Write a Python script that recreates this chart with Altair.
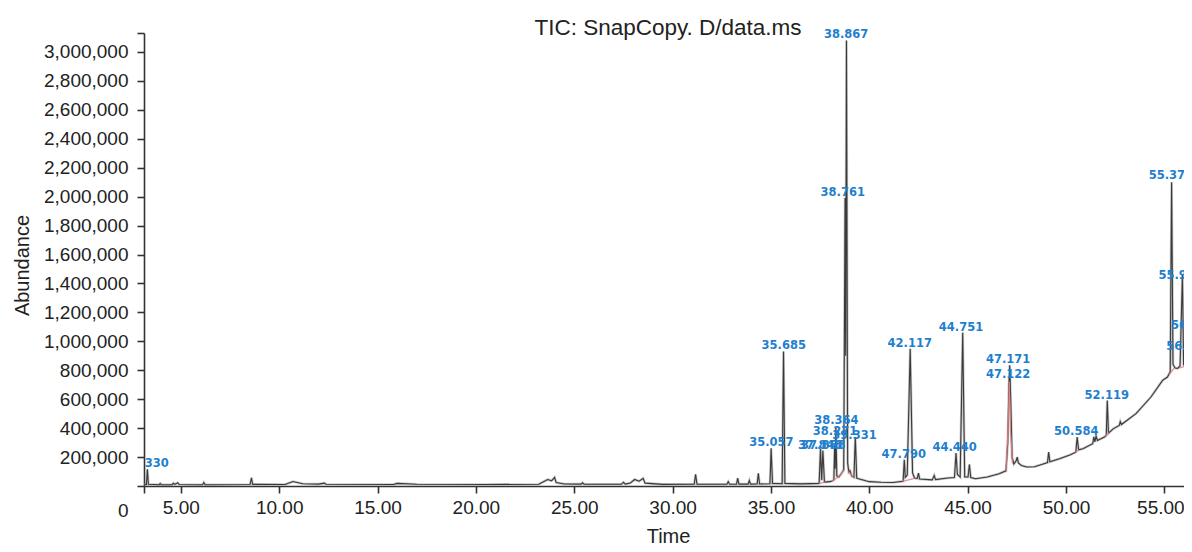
import altair as alt
import pandas as pd

# ---- chromatogram trace (time in minutes, abundance) ----
time_min = [
    3.13, 3.25, 3.30, 3.35, 3.90, 3.95, 4.00, 4.55, 4.62, 4.70, 4.84, 4.92,
    6.10, 6.17, 6.23, 8.52, 8.59, 8.65, 10.30, 10.70, 11.20, 12.00, 12.30, 12.38,
    15.80, 16.00, 17.00, 20.50, 23.20, 23.65, 23.85, 24.00, 24.08, 24.50,
    25.35, 25.42, 25.50, 27.40, 27.50, 27.60, 27.85, 28.07, 28.30, 28.50, 28.60,
    29.50, 31.10, 31.17, 31.24, 32.76, 32.83, 32.90, 33.25, 33.31, 33.37,
    33.84, 33.90, 33.96, 34.30, 34.36, 34.42, 34.95, 35.01, 35.08, 35.57, 35.64, 35.71,
    36.50, 37.45, 37.52, 37.58, 37.64, 37.72, 38.00, 38.10, 38.20, 38.24, 38.27,
    38.30, 38.35, 38.45, 38.60, 38.70, 38.77, 38.80, 38.84, 38.90, 38.96, 39.02,
    39.10, 39.22, 39.29, 39.36, 39.45, 40.00, 40.60, 41.20, 41.72, 41.78, 41.83,
    41.93, 42.08, 42.20, 42.30, 42.44, 42.50, 42.56, 43.20, 43.30, 43.37, 44.00,
    44.33, 44.41, 44.48, 44.62, 44.75, 44.85, 45.02, 45.09, 45.16, 45.40, 46.00,
    46.60, 46.95, 47.04, 47.10, 47.14, 47.19, 47.26, 47.35, 47.47, 47.52, 47.58,
    47.73, 48.00, 48.40, 48.80, 49.06, 49.12, 49.18, 49.67, 50.20, 50.50, 50.57,
    50.64, 50.86, 51.36, 51.42, 51.47, 51.53, 51.60, 51.95, 52.05, 52.10, 52.16,
    52.40, 52.71, 52.76, 52.82, 53.56, 54.32, 54.91, 55.16, 55.30, 55.37, 55.44,
    55.55, 55.67, 55.80, 55.92, 55.98, 56.03, 56.07, 56.11, 56.15, 56.19,
]
abundance = [
    14000, 10000, 115000, 12000, 9000, 17000, 9000, 9000, 19000, 11000, 22000, 10000,
    9000, 24000, 9000, 10000, 57000, 11000, 10000, 31000, 16000, 13000, 20000, 12000,
    10000, 18000, 12000, 10000, 12000, 45000, 36000, 60000, 24000, 14000,
    13000, 22000, 13000, 12000, 26000, 13000, 20000, 45000, 33000, 53000, 20000,
    11000, 12000, 80000, 12000, 12000, 30000, 12000, 13000, 54000, 13000,
    13000, 38000, 13000, 14000, 88000, 14000, 15000, 260000, 18000, 16000, 930000, 18000,
    15000, 18000, 255000, 40000, 245000, 27000, 30000, 34000, 42000, 281000, 120000,
    410000, 70000, 62000, 90000, 112000, 1990000, 900000, 3080000, 160000, 96000, 105000,
    70000, 60000, 338000, 55000, 50000, 30000, 26000, 24000, 32000, 182000, 60000,
    75000, 949000, 90000, 55000, 52000, 89000, 48000, 42000, 73000, 44000, 55000,
    58000, 228000, 80000, 62000, 1060000, 62000, 62000, 149000, 58000, 50000, 62000,
    85000, 105000, 300000, 700000, 834000, 600000, 200000, 152000, 175000, 200000, 160000,
    142000, 131000, 133000, 150000, 162000, 234000, 168000, 189000, 215000, 234000, 338000,
    250000, 258000, 292000, 340000, 305000, 345000, 315000, 338000, 350000, 590000, 365000,
    395000, 419000, 445000, 425000, 500000, 615000, 730000, 753000, 790000, 2100000, 840000,
    815000, 813000, 830000, 1460000, 840000, 830000, 960000, 850000, 990000, 930000,
]

# ---- integration baselines / integrated peak bodies (pink) ----
pink_seg = ["B", "B", "C", "C", "C", "C", "D", "D", "E", "E",
            "F", "F", "F", "F", "F", "G", "G", "H", "H", "I", "I", "J", "J", "K", "K"]
pink_time = [37.45, 37.75, 38.10, 38.40, 38.60, 38.72, 38.92, 39.20, 41.70, 42.30,
             46.95, 47.05, 47.12, 47.18, 47.28, 50.48, 50.66, 52.02, 52.20,
             55.25, 55.50, 55.75, 56.00, 56.05, 56.19]
pink_abund = [18000, 27000, 32000, 60000, 90000, 110000, 100000, 60000, 32000, 52000,
              105000, 380000, 723000, 380000, 155000, 232000, 250000, 348000, 370000,
              770000, 815000, 815000, 825000, 830000, 870000]

# ---- peak labels ----
label_text = ["3.330", "35.057", "35.685", "37.848", "37.868", "38.271", "38.364",
              "39.331", "38.761", "38.867", "47.790", "42.117", "44.440", "44.751",
              "47.122", "47.171", "50.584", "52.119", "55.373", "55.915", "56.112", "56.284"]
label_time = [3.46, 35.02, 35.65, 37.51, 37.66, 38.26, 38.33, 39.25, 38.65, 38.82,
              41.75, 42.06, 44.34, 44.66, 47.06, 47.06, 50.52, 52.07, 55.33, 55.83,
              56.22, 56.47]
label_abund = [154000, 297000, 965000, 274000, 274000, 373000, 449000, 343000,
               2023000, 3115000, 212000, 979000, 265000, 1094000, 765000, 873000,
               373000, 619000, 2143000, 1451000, 964000, 1109000]

# ---- axis ticks ----
x_min, x_max = 3.127, 56.0
x_ticks = [x_min, 5, 10, 15, 20, 25, 30, 35, 40, 45, 50, 55]
y_max = 3131000
y_ticks = [0, 200000, 400000, 600000, 800000, 1000000, 1200000, 1400000, 1600000,
           1800000, 2000000, 2200000, 2400000, 2600000, 2800000, 3000000, y_max]

trace = pd.DataFrame({"t": time_min, "a": abundance})
pink = pd.DataFrame({"seg": pink_seg, "t": pink_time, "a": pink_abund})
labels = pd.DataFrame({"txt": label_text, "t": label_time, "a": label_abund})

FONT = "Liberation Sans"
xs = alt.Scale(domain=[x_min, x_max], nice=False, zero=False)
ys = alt.Scale(domain=[0, y_max], nice=False, zero=True)

x_axis = alt.Axis(
    values=x_ticks,
    labelExpr="datum.value < 4 ? '' : format(datum.value, '.2f')",
    labelOffset={"condition": {"test": "datum.value > 54", "value": -4}, "value": 0},
    title="Time", titleX=524, titleY=50, titleBaseline="middle", titleAlign="center",
    labelPadding=5, labelFlush=False, labelOverlap=False,
)
y_axis = alt.Axis(
    values=y_ticks,
    labelExpr="datum.value > 3000000 ? '' : (datum.value == 0 ? '0' : format(datum.value, ','))",
    labelOffset={"condition": {"test": "datum.value == 0", "value": 24}, "value": 0},
    title="Abundance", titleX=-122, titleY=232, titleAngle=270,
    titleAlign="center", titleBaseline="middle",
    labelPadding=9, labelFlush=False, labelOverlap=False,
)

X = alt.X("t:Q", scale=xs, axis=x_axis)
Y = alt.Y("a:Q", scale=ys, axis=y_axis)

glow = alt.Chart(trace).mark_line(color="#9a9a9a", strokeWidth=2.6, opacity=0.55, clip=True).encode(
    x=X, y=Y, order="t:Q",
)
line = alt.Chart(trace).mark_line(color="#3a3a3a", strokeWidth=1.1, clip=True).encode(
    x=X, y=Y, order="t:Q",
)
pinkl = alt.Chart(pink).mark_line(color="#e07f7f", strokeWidth=1.3, opacity=0.85, clip=True).encode(
    x=X, y=Y, detail="seg:N", order="t:Q",
)
label_style = dict(font="DejaVu Sans", fontWeight="bold", fontSize=11.5, color="#1f7fcf",
                   align="center", baseline="middle")
text_edge = alt.Chart(labels).transform_filter("datum.t < 5").mark_text(
    clip=True, **label_style
).encode(x=X, y=Y, text="txt:N")
text_main = alt.Chart(labels).transform_filter("datum.t >= 5").mark_text(
    clip=False, **label_style
).encode(x=X, y=Y, text="txt:N")

chart = alt.layer(glow, line, pinkl, text_edge, text_main).properties(
    width=1040, height=453,
    autosize=alt.AutoSizeParams(type="none"),
    padding={"left": 136, "top": 25, "right": 0, "bottom": 60},
    title=alt.TitleParams(
        text="TIC: SnapCopy. D/data.ms", anchor="middle", frame="group",
        font=FONT, fontSize=22.5, fontWeight="normal", color="#222222",
        baseline="alphabetic", offset=-33, dx=4,
    ),
).configure_view(stroke=None).configure_axis(
    grid=False,
    domainColor="#333333", domainWidth=1.6,
    tickColor="#333333", tickWidth=1.6, tickSize=7,
    labelFont=FONT, labelFontSize=19, labelColor="#222222",
    titleFont=FONT, titleFontSize=20, titleColor="#222222", titleFontWeight="normal",
)

chart.save("out.html", embed_options={"renderer": "svg", "actions": False})
